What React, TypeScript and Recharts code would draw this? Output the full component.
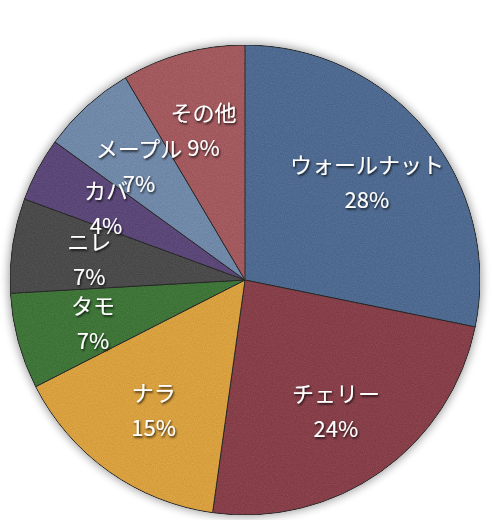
import React from 'react';
import { PieChart, Pie, Cell } from 'recharts';

// ── Data ──────────────────────────────────────────────────────────────────────

const woods = ['ウォールナット', 'チェリー', 'ナラ', 'タモ', 'ニレ', 'カバ', 'メープル', 'その他'];
const shares = [28.2, 24.0, 15.3, 6.6, 6.5, 4.4, 6.5, 8.5];
const colors = ['#4e6a90', '#87404a', '#d8a03f', '#3f7539', '#4b4b4b', '#5b4878', '#7189a9', '#a35a5e'];

const data = woods.map((name, i) => ({ name, value: shares[i] }));

const RAD = Math.PI / 180;
const FONT = '"Noto Sans CJK JP", "Noto Sans", sans-serif';

// label: two lines (name / percent) at ~2/3 of the radius
function renderLabel(props: any) {
  const { cx, cy, midAngle, outerRadius, percent, name } = props;
  const r = outerRadius * 0.67;
  const x = cx + r * Math.cos(-midAngle * RAD);
  const y = cy + r * Math.sin(-midAngle * RAD);
  return (
    <g filter="url(#txtShadow)">
      <text x={x} y={y - 17} fill="#fff" fontSize={22} fontFamily={FONT} textAnchor="middle" dominantBaseline="central">
        {name}
      </text>
      <text x={x} y={y + 18} fill="#fff" fontSize={22} fontFamily={FONT} textAnchor="middle" dominantBaseline="central">
        {`${Math.round(percent * 100)}%`}
      </text>
    </g>
  );
}

export default function App() {
  return (
    <div style={{ position: 'absolute', left: 0, top: 0, width: 492, height: 520, background: '#fff' }}>
      <PieChart width={492} height={520} margin={{ top: 0, right: 0, bottom: 0, left: 0 }}>
        <defs>
          {/* paper-like grain: source + small centred noise, clipped to the slice */}
          <filter id="grain" x="0" y="0" width="100%" height="100%" colorInterpolationFilters="sRGB">
            <feTurbulence type="fractalNoise" baseFrequency="0.9" numOctaves="2" seed="4" result="noise" />
            <feColorMatrix
              in="noise"
              type="matrix"
              values="0.33 0.33 0.33 0 0  0.33 0.33 0.33 0 0  0.33 0.33 0.33 0 0  0 0 0 0 1"
              result="gray"
            />
            <feComposite in="SourceGraphic" in2="gray" operator="arithmetic" k1="0" k2="1" k3="0.18" k4="-0.09" result="mix" />
            <feComposite in="mix" in2="SourceGraphic" operator="in" />
          </filter>
          <filter id="halo" x="-20%" y="-20%" width="140%" height="140%">
            <feGaussianBlur stdDeviation="4" />
          </filter>
          <filter id="txtShadow" x="-20%" y="-50%" width="140%" height="200%">
            <feDropShadow dx="1" dy="1.5" stdDeviation="1" floodColor="#000" floodOpacity="0.85" />
          </filter>
        </defs>
        {/* soft shadow behind the pie */}
        <Pie
          data={data}
          dataKey="value"
          cx={245}
          cy={280}
          outerRadius={237}
          startAngle={90}
          endAngle={-270}
          stroke="none"
          fill="#000"
          opacity={0.35}
          filter="url(#halo)"
          isAnimationActive={false}
        />
        <Pie
          data={data}
          dataKey="value"
          nameKey="name"
          cx={245}
          cy={280}
          outerRadius={235}
          startAngle={90}
          endAngle={-270}
          stroke="#2b2b2b"
          strokeWidth={1}
          labelLine={false}
          label={renderLabel}
          isAnimationActive={false}
        >
          {data.map((d, i) => (
            <Cell key={d.name} fill={colors[i]} filter="url(#grain)" />
          ))}
        </Pie>
      </PieChart>
    </div>
  );
}
